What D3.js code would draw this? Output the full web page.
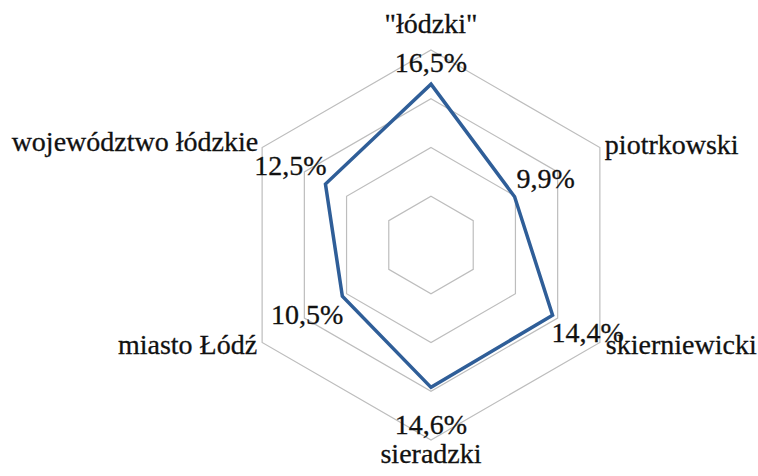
<!DOCTYPE html>
<html>
<head>
<meta charset="utf-8">
<script src="https://cdn.jsdelivr.net/npm/d3@7"></script>
<style>
  body { margin: 0; background: #fff; }
</style>
</head>
<body>
<div id="chart-area"></div>
<script>

const categories = ['"łódzki"', 'piotrkowski', 'skierniewicki', 'sieradzki', 'miasto Łódź', 'województwo łódzkie'];
const values = [16.5, 9.9, 14.4, 14.6, 10.5, 12.5];
const valueLabels = ['16,5%', '9,9%', '14,4%', '14,6%', '10,5%', '12,5%'];
const gridLevels = [5, 10, 15, 20];

const widthSvg = 758;
const heightSvg = 476;
const center = { x: 431, y: 245 };
const radius = 195;
const fontFamily = '"Liberation Serif"';

// offsets of the text from its anchor point
const catOffsets = [
  { dx: 0, dy: -17, anchor: 'middle' },
  { dx: 5, dy: 6, anchor: 'start' },
  { dx: 6, dy: 11, anchor: 'start' },
  { dx: 0, dy: 23, anchor: 'middle' },
  { dx: -5, dy: 11, anchor: 'end' },
  { dx: -4, dy: 3, anchor: 'end' },
];
const valOffsets = [
  { dx: 0, dy: -12, anchor: 'middle' },
  { dx: 2, dy: -9, anchor: 'start' },
  { dx: -1, dy: 27, anchor: 'start' },
  { dx: 0, dy: 47, anchor: 'middle' },
  { dx: 1, dy: 28, anchor: 'end' },
  { dx: 1, dy: -9, anchor: 'end' },
];

const scaleR = d3.scaleLinear()
  .domain([0, 20])
  .range([0, radius]);

const angle = i => (Math.PI * 2 / categories.length) * i;

const point = (i, v) => [
  center.x + scaleR(v) * Math.sin(angle(i)),
  center.y - scaleR(v) * Math.cos(angle(i)),
];

const svg = d3.select('#chart-area').append('svg')
  .attr('width', widthSvg)
  .attr('height', heightSvg);

// hexagon grid
svg.append('g')
  .selectAll('polygon')
  .data(gridLevels)
  .enter()
  .append('polygon')
    .attr('points', lvl => categories.map((c, i) => point(i, lvl).join(',')).join(' '))
    .attr('fill', 'none')
    .attr('stroke', '#bdbdbd')
    .attr('stroke-width', 1.2);

// data line
const line = d3.line().curve(d3.curveLinearClosed);

svg.append('path')
  .attr('d', line(values.map((v, i) => point(i, v))))
  .attr('fill', 'none')
  .attr('stroke', '#2f5e98')
  .attr('stroke-width', 3.5)
  .attr('stroke-linejoin', 'miter');

const styleText = sel => sel
  .style('font-family', fontFamily)
  .style('font-size', '28px')
  .attr('fill', '#111')
  .attr('stroke', '#111')
  .attr('stroke-width', 0.3);

// category labels
svg.append('g')
  .selectAll('text')
  .data(categories)
  .enter()
  .append('text')
    .text(d => d)
    .attr('x', (d, i) => point(i, 20)[0] + catOffsets[i].dx)
    .attr('y', (d, i) => point(i, 20)[1] + catOffsets[i].dy)
    .attr('text-anchor', (d, i) => catOffsets[i].anchor)
    .call(styleText);

// value labels
svg.append('g')
  .selectAll('text')
  .data(values)
  .enter()
  .append('text')
    .text((d, i) => valueLabels[i])
    .attr('x', (d, i) => point(i, d)[0] + valOffsets[i].dx)
    .attr('y', (d, i) => point(i, d)[1] + valOffsets[i].dy)
    .attr('text-anchor', (d, i) => valOffsets[i].anchor)
    .call(styleText);

</script>
</body>
</html>
